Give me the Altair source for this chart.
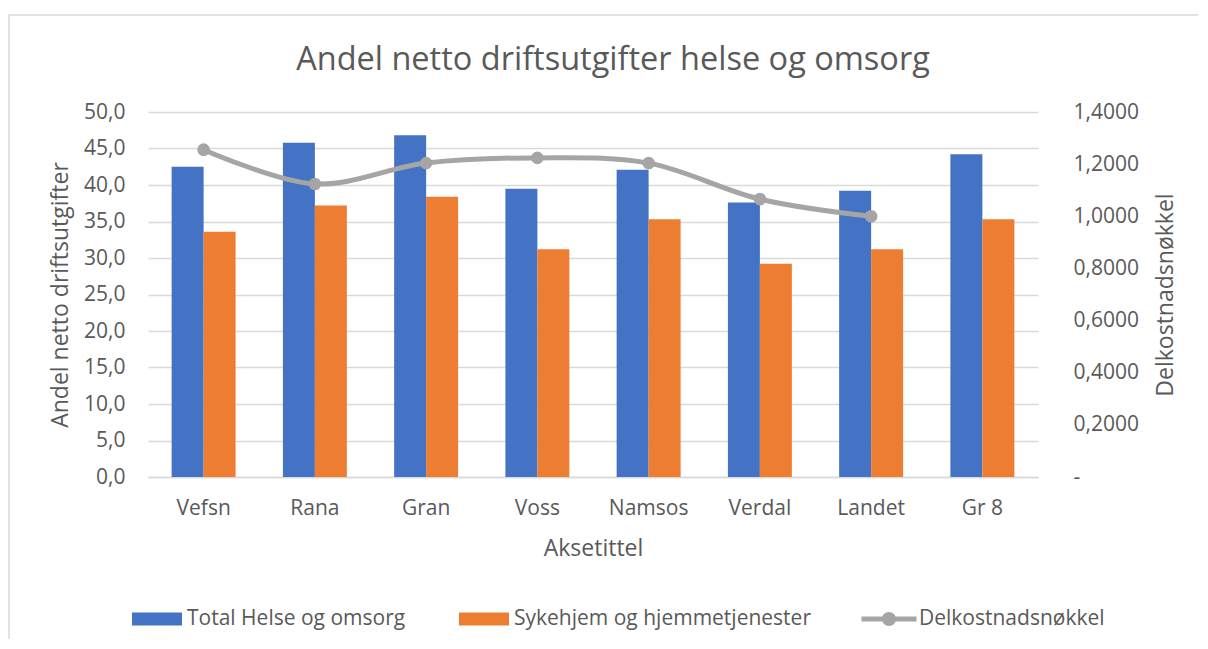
import altair as alt
import pandas as pd

categories = ["Vefsn", "Rana", "Gran", "Voss", "Namsos", "Verdal", "Landet", "Gr 8"]
total_helse = [42.5, 45.8, 46.8, 39.5, 42.1, 37.6, 39.2, 44.2]
sykehjem = [33.6, 37.2, 38.4, 31.2, 35.3, 29.2, 31.2, 35.3]
delkostnad = [1.2555, 1.124, 1.204, 1.224, 1.204, 1.066, 1.0, None]

series_names = ["Total Helse og omsorg", "Sykehjem og hjemmetjenester"]
line_name = "Delkostnadsnøkkel"
bar_colors = ["#4472C4", "#ED7D31"]
line_color = "#A5A5A5"
FONT = "Open Sans"
TXT = "#595959"
GRID = "#D9D9D9"

bar_rows = []
for c, t, s in zip(categories, total_helse, sykehjem):
    bar_rows.append({"kommune": c, "serie": series_names[0], "verdi": t})
    bar_rows.append({"kommune": c, "serie": series_names[1], "verdi": s})
bar_df = pd.DataFrame(bar_rows)
line_df = pd.DataFrame({"kommune": categories, "delk": delkostnad, "serie": line_name}).dropna()

x_enc = alt.X(
    "kommune:N",
    sort=categories,
    scale=alt.Scale(domain=categories, paddingInner=0.425, paddingOuter=0.2125),
    axis=alt.Axis(
        title="Aksetittel", labelAngle=0, ticks=False, domainColor=GRID, domainWidth=1.3,
        labelFont=FONT, labelFontSize=21, labelColor=TXT, labelPadding=20,
        titleFont=FONT, titleFontSize=23, titleColor=TXT, titleFontWeight="normal",
        titleX=445, titleY=71, titleAlign="center", titleBaseline="middle",
    ),
)

rect_path = "M-1,-0.26H1V0.26H-1Z"
line_path = "M-1.1,-0.1H1.1V0.1H-1.1Z M0.28,0A0.28,0.28 0 1,1 -0.28,0A0.28,0.28 0 1,1 0.28,0Z"

legend_common = dict(
    orient="none", direction="horizontal", title=None, symbolSize=2500,
    symbolStrokeWidth=0, symbolOpacity=1, labelFont=FONT, labelFontSize=21,
    labelColor=TXT, labelOffset=5, columnPadding=53, padding=0, labelLimit=400,
)

bars = alt.Chart(bar_df).mark_bar().encode(
    x=x_enc,
    xOffset=alt.XOffset("serie:N", sort=series_names, scale=alt.Scale(domain=series_names, paddingInner=0, paddingOuter=0)),
    y=alt.Y(
        "verdi:Q",
        scale=alt.Scale(domain=[0, 50], nice=False),
        axis=alt.Axis(
            title="Andel netto driftsutgifter", values=list(range(0, 55, 5)),
            labelExpr="replace(format(datum.value, '.1f'), '.', ',')",
            ticks=False, domain=False, grid=True, gridColor=GRID, gridWidth=1.3,
            labelFont=FONT, labelFontSize=21, labelColor=TXT, labelPadding=23,
            titleFont=FONT, titleFontSize=23, titleColor=TXT, titleFontWeight="normal",
            titleX=-88, titleY=182.5, titleAngle=270, titleAlign="center", titleBaseline="middle",
        ),
    ),
    color=alt.Color(
        "serie:N",
        scale=alt.Scale(domain=series_names, range=bar_colors),
        legend=alt.Legend(legendX=-16, legendY=482, symbolType=rect_path, **legend_common),
    ),
)

y_line = alt.Y(
    "delk:Q",
    scale=alt.Scale(domain=[0, 1.4], nice=False),
    axis=alt.Axis(
        orient="right", title="Delkostnadsnøkkel", values=[0, 0.2, 0.4, 0.6, 0.8, 1.0, 1.2, 1.4],
        labelExpr="datum.value == 0 ? '-' : replace(format(datum.value, '.4f'), '.', ',')",
        ticks=False, domain=False, grid=False,
        labelFont=FONT, labelFontSize=21, labelColor=TXT, labelPadding=35,
        titleFont=FONT, titleFontSize=23, titleColor=TXT, titleFontWeight="normal",
        titleX=127, titleY=182.5, titleAngle=270, titleAlign="center", titleBaseline="middle",
    ),
)

line = alt.Chart(line_df).mark_line(
    interpolate="catmull-rom", color=line_color, strokeWidth=5,
).encode(x=alt.X("kommune:N", sort=categories), y=y_line)

points = alt.Chart(line_df).mark_point(filled=True, size=160, opacity=1).encode(
    x=alt.X("kommune:N", sort=categories),
    y=alt.Y("delk:Q"),
    fill=alt.Fill(
        "serie:N",
        scale=alt.Scale(domain=[line_name], range=[line_color]),
        legend=alt.Legend(legendX=716, legendY=482, symbolType=line_path, **legend_common),
    ),
)

frame = alt.Chart(pd.DataFrame({"a": [0]})).mark_rect(
    fill="transparent", stroke=GRID, strokeWidth=1.5
).encode(
    x=alt.value(-139), x2=alt.value(1100), y=alt.value(-97), y2=alt.value(600)
)

chart = alt.layer(frame, bars, alt.layer(line, points)).resolve_scale(y="independent").properties(
    width=890,
    height=365,
    autosize=alt.AutoSizeParams(type="none"),
    padding={"left": 140, "top": 104, "right": 160, "bottom": 162},
    title=alt.Title(
        "Andel netto driftsutgifter helse og omsorg", font=FONT, fontSize=32.5,
        fontWeight="normal", color=TXT, anchor="middle", offset=-62, dx=20,
    ),
).configure_view(stroke=None)

chart.save("out.html", embed_options={"renderer": "svg", "actions": False})
